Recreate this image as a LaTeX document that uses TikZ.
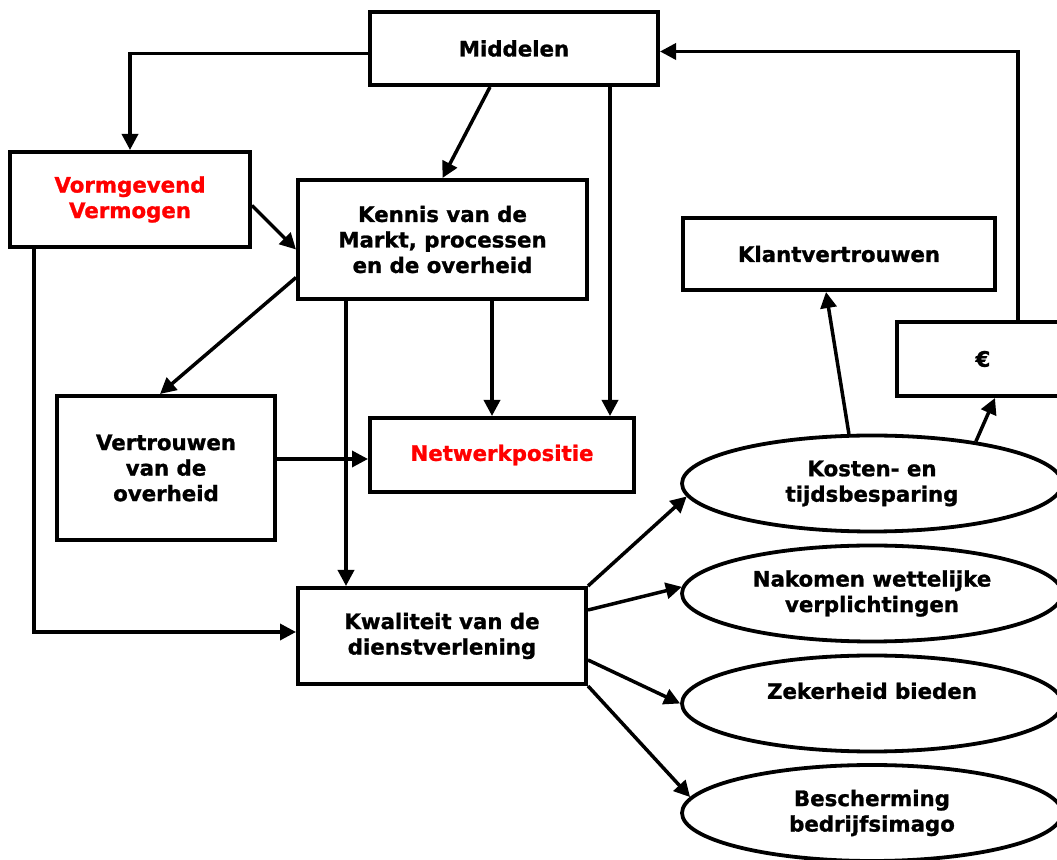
\documentclass[tikz,border=0pt]{standalone}
\usepackage{fontspec}
\setmainfont{DejaVu Sans}[BoldFeatures={FakeBold=1.2}]
\usetikzlibrary{arrows.meta,shapes.geometric}
\definecolor{accent}{HTML}{FF0000}
\begin{document}
\begin{tikzpicture}[x=1pt,y=1pt,
  font=\fontsize{21.3}{25.5}\selectfont\bfseries,
  box/.style={draw, line width=4pt, inner sep=0pt, align=center},
  oval/.style={draw, ellipse, line width=3.8pt, inner sep=0pt, align=center,
    minimum width=380pt, minimum height=96pt},
  arr/.style={line width=3.5pt, -{Triangle[length=16pt,width=16pt]}},
  red/.style={text=accent}]
\useasboundingbox (0,0) rectangle (1057,859);
\clip (0,0) rectangle (1057,859);

% boxes
\node[box, minimum width=288pt, minimum height=73pt] (mid) at (514,810.5) {Middelen};
\node[box, red, minimum width=240pt, minimum height=95pt] (vorm) at (130,659.5) {Vormgevend\\Vermogen};
\node[box, minimum width=289pt, minimum height=119pt] (kennis) at (442.5,619.5) {Kennis van de\\Markt, processen\\en de overheid};
\node[box, minimum width=312pt, minimum height=72pt] (klant) at (839,605) {Klantvertrouwen};
\node[box, minimum width=172pt, minimum height=74pt] (euro) at (983,500) {€};
\node[box, minimum width=218pt, minimum height=144pt] (vert) at (166,391) {Vertrouwen\\van de\\overheid};
\node[box, red, minimum width=264pt, minimum height=74pt] (netw) at (502,404) {Netwerkpositie};
\node[box, minimum width=288pt, minimum height=96pt] (kwal) at (442,223) {Kwaliteit van de\\dienstverlening};

% effects
\node[oval] (kosten) at (872,375.5) {Kosten- en\\tijdsbesparing};
\node[oval] (nakomen) at (872,265.5) {Nakomen wettelijke\\verplichtingen};
\node[oval] (zeker) at (872,155.5) {Zekerheid bieden\\\mbox{}};
\node[oval] (besch) at (872,46) {Bescherming\\bedrijfsimago};

% helper points on box sides
\coordinate (m1) at ([yshift=-5pt]mid.west);
\coordinate (m3) at ([xshift=96pt]mid.south);
\coordinate (k6) at ([xshift=-96.5pt]kennis.south);
\coordinate (k7) at ([xshift=49.5pt]kennis.south);
\coordinate (v8) at ([yshift=9pt]vert.east);
\coordinate (v9) at ([xshift=-96pt]vorm.south);
\coordinate (e16) at ([xshift=35pt]euro.north);

% connectors
\draw[arr] (m1) -| (vorm.north);
\draw[arr] ([xshift=-24pt]mid.south) -- (kennis.north);
\draw[arr] (m3) -- (m3 |- netw.north);
\draw[arr] ([yshift=-6pt]vorm.east) -- ([yshift=-10pt]kennis.west);
\draw[arr] ([yshift=-38pt]kennis.west) -- ([xshift=-6pt]vert.north);
\draw[arr] (k6) -- (k6 |- kwal.north);
\draw[arr] (k7) -- (k7 |- netw.north);
\draw[arr] (v8) -- (v8 -| netw.west);
\draw[arr] (v9) |- ([yshift=4pt]kwal.west);
\draw[arr] (kwal.north east) -- (kosten.184);
\draw[arr] ([yshift=26pt]kwal.east) -- (nakomen.178);
\draw[arr] ([yshift=-24pt]kwal.east) -- (zeker.west);
\draw[arr] (kwal.south east) -- (besch.175);
\draw[arr] (kosten.115) -- ([xshift=-13pt]klant.south);
\draw[arr] (kosten.22) -- ([xshift=12pt]euro.south);
\draw[arr] (e16) |- ([yshift=-3pt]mid.east);
\end{tikzpicture}
\end{document}
